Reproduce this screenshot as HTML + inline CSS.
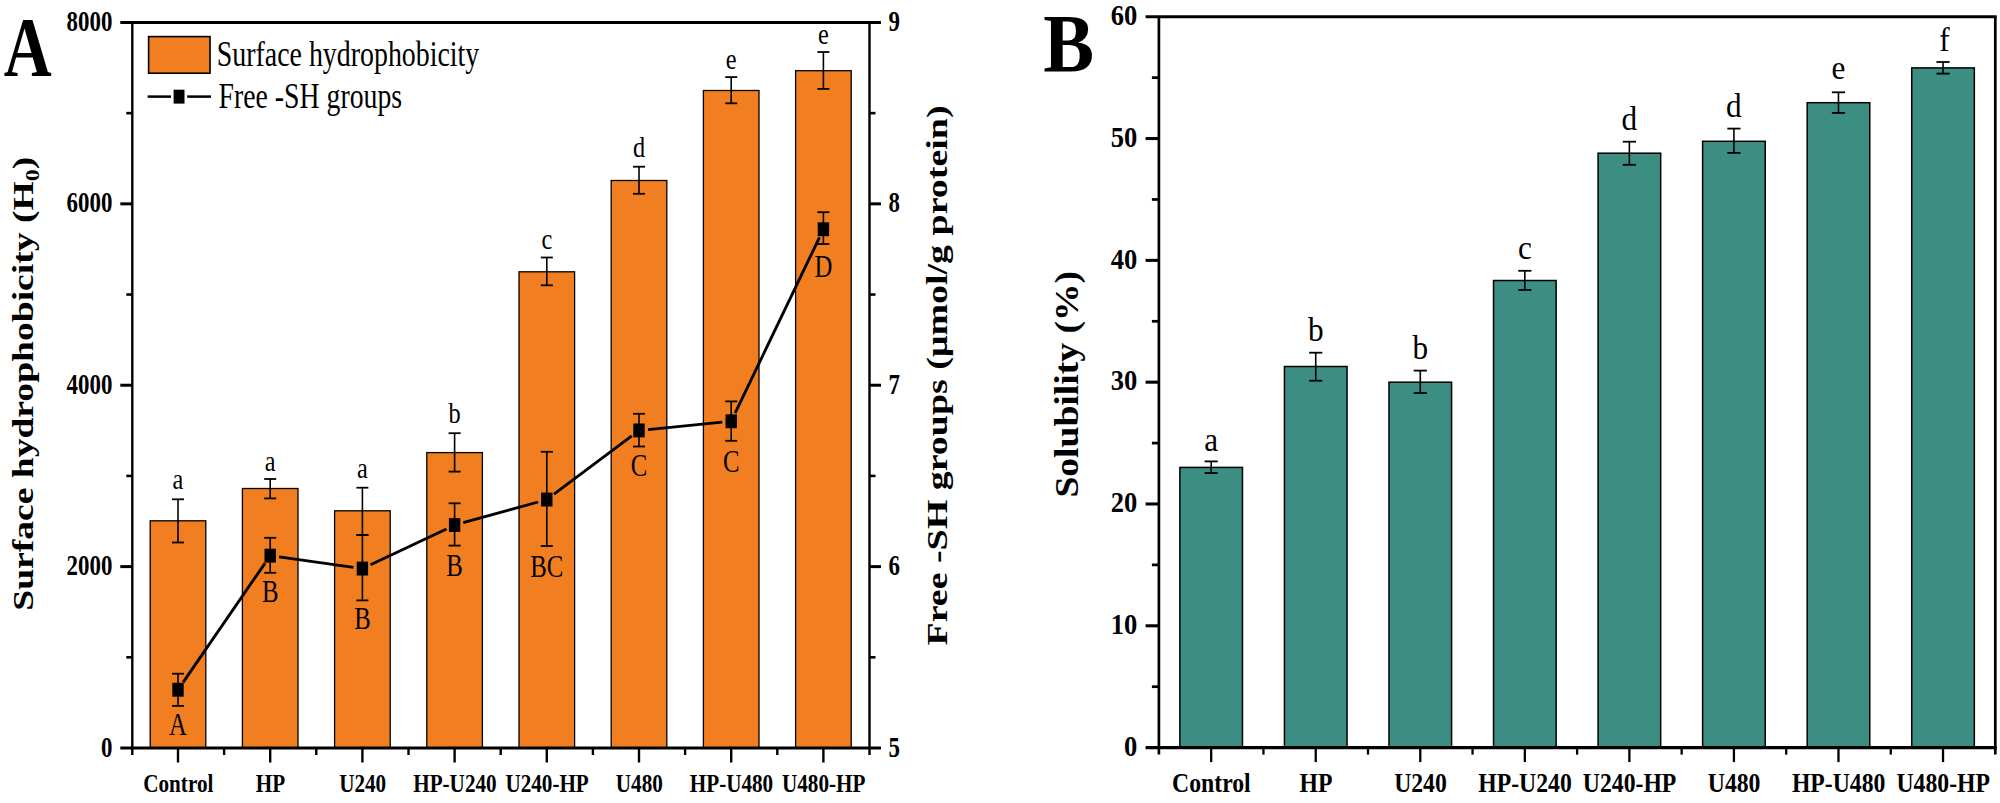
<!DOCTYPE html>
<html lang="en"><head><meta charset="utf-8"><title>Figure</title>
<style>
html,body{margin:0;padding:0;background:#fff;}
body{width:2000px;height:803px;overflow:hidden;}
svg{display:block;}
svg text{font-family:"Liberation Serif",serif;fill:#000;}
</style></head><body>
<svg width="2000" height="803" viewBox="0 0 2000 803">
<rect x="0" y="0" width="2000" height="803" fill="#fff"/>
<rect x="150.20" y="520.80" width="55.60" height="227.20" fill="#F17F21" stroke="#000" stroke-width="1.3"/>
<rect x="242.40" y="488.50" width="55.60" height="259.50" fill="#F17F21" stroke="#000" stroke-width="1.3"/>
<rect x="334.60" y="510.80" width="55.60" height="237.20" fill="#F17F21" stroke="#000" stroke-width="1.3"/>
<rect x="426.80" y="452.60" width="55.60" height="295.40" fill="#F17F21" stroke="#000" stroke-width="1.3"/>
<rect x="519.00" y="271.80" width="55.60" height="476.20" fill="#F17F21" stroke="#000" stroke-width="1.3"/>
<rect x="611.20" y="180.50" width="55.60" height="567.50" fill="#F17F21" stroke="#000" stroke-width="1.3"/>
<rect x="703.40" y="90.50" width="55.60" height="657.50" fill="#F17F21" stroke="#000" stroke-width="1.3"/>
<rect x="795.60" y="70.70" width="55.60" height="677.30" fill="#F17F21" stroke="#000" stroke-width="1.3"/>
<line x1="120.30" y1="22.45" x2="881.00" y2="22.45" stroke="#000" stroke-width="3.0" stroke-linecap="butt"/>
<line x1="120.30" y1="748.00" x2="881.00" y2="748.00" stroke="#000" stroke-width="3.0" stroke-linecap="butt"/>
<line x1="132.30" y1="22.45" x2="132.30" y2="755.00" stroke="#000" stroke-width="2.4" stroke-linecap="butt"/>
<line x1="869.50" y1="22.45" x2="869.50" y2="755.00" stroke="#000" stroke-width="2.4" stroke-linecap="butt"/>
<line x1="126.30" y1="657.31" x2="132.30" y2="657.31" stroke="#000" stroke-width="2.6" stroke-linecap="butt"/>
<line x1="126.30" y1="475.92" x2="132.30" y2="475.92" stroke="#000" stroke-width="2.6" stroke-linecap="butt"/>
<line x1="126.30" y1="294.53" x2="132.30" y2="294.53" stroke="#000" stroke-width="2.6" stroke-linecap="butt"/>
<line x1="126.30" y1="113.14" x2="132.30" y2="113.14" stroke="#000" stroke-width="2.6" stroke-linecap="butt"/>
<line x1="120.30" y1="566.61" x2="132.30" y2="566.61" stroke="#000" stroke-width="3.0" stroke-linecap="butt"/>
<line x1="120.30" y1="385.23" x2="132.30" y2="385.23" stroke="#000" stroke-width="3.0" stroke-linecap="butt"/>
<line x1="120.30" y1="203.84" x2="132.30" y2="203.84" stroke="#000" stroke-width="3.0" stroke-linecap="butt"/>
<line x1="869.50" y1="657.31" x2="875.50" y2="657.31" stroke="#000" stroke-width="2.6" stroke-linecap="butt"/>
<line x1="869.50" y1="566.61" x2="881.00" y2="566.61" stroke="#000" stroke-width="3.0" stroke-linecap="butt"/>
<line x1="869.50" y1="475.92" x2="875.50" y2="475.92" stroke="#000" stroke-width="2.6" stroke-linecap="butt"/>
<line x1="869.50" y1="385.23" x2="881.00" y2="385.23" stroke="#000" stroke-width="3.0" stroke-linecap="butt"/>
<line x1="869.50" y1="294.53" x2="875.50" y2="294.53" stroke="#000" stroke-width="2.6" stroke-linecap="butt"/>
<line x1="869.50" y1="203.84" x2="881.00" y2="203.84" stroke="#000" stroke-width="3.0" stroke-linecap="butt"/>
<line x1="869.50" y1="113.14" x2="875.50" y2="113.14" stroke="#000" stroke-width="2.6" stroke-linecap="butt"/>
<line x1="178.00" y1="748.00" x2="178.00" y2="762.50" stroke="#000" stroke-width="2.4" stroke-linecap="butt"/>
<line x1="270.20" y1="748.00" x2="270.20" y2="762.50" stroke="#000" stroke-width="2.4" stroke-linecap="butt"/>
<line x1="362.40" y1="748.00" x2="362.40" y2="762.50" stroke="#000" stroke-width="2.4" stroke-linecap="butt"/>
<line x1="454.60" y1="748.00" x2="454.60" y2="762.50" stroke="#000" stroke-width="2.4" stroke-linecap="butt"/>
<line x1="546.80" y1="748.00" x2="546.80" y2="762.50" stroke="#000" stroke-width="2.4" stroke-linecap="butt"/>
<line x1="639.00" y1="748.00" x2="639.00" y2="762.50" stroke="#000" stroke-width="2.4" stroke-linecap="butt"/>
<line x1="731.20" y1="748.00" x2="731.20" y2="762.50" stroke="#000" stroke-width="2.4" stroke-linecap="butt"/>
<line x1="823.40" y1="748.00" x2="823.40" y2="762.50" stroke="#000" stroke-width="2.4" stroke-linecap="butt"/>
<line x1="224.10" y1="748.00" x2="224.10" y2="755.00" stroke="#000" stroke-width="2.4" stroke-linecap="butt"/>
<line x1="316.30" y1="748.00" x2="316.30" y2="755.00" stroke="#000" stroke-width="2.4" stroke-linecap="butt"/>
<line x1="408.50" y1="748.00" x2="408.50" y2="755.00" stroke="#000" stroke-width="2.4" stroke-linecap="butt"/>
<line x1="500.70" y1="748.00" x2="500.70" y2="755.00" stroke="#000" stroke-width="2.4" stroke-linecap="butt"/>
<line x1="592.90" y1="748.00" x2="592.90" y2="755.00" stroke="#000" stroke-width="2.4" stroke-linecap="butt"/>
<line x1="685.10" y1="748.00" x2="685.10" y2="755.00" stroke="#000" stroke-width="2.4" stroke-linecap="butt"/>
<line x1="777.30" y1="748.00" x2="777.30" y2="755.00" stroke="#000" stroke-width="2.4" stroke-linecap="butt"/>
<line x1="178.00" y1="499.30" x2="178.00" y2="542.50" stroke="#000" stroke-width="1.6" stroke-linecap="butt"/>
<line x1="172.00" y1="499.30" x2="184.00" y2="499.30" stroke="#000" stroke-width="1.8" stroke-linecap="butt"/>
<line x1="172.00" y1="542.50" x2="184.00" y2="542.50" stroke="#000" stroke-width="1.8" stroke-linecap="butt"/>
<line x1="270.20" y1="479.00" x2="270.20" y2="498.40" stroke="#000" stroke-width="1.6" stroke-linecap="butt"/>
<line x1="264.20" y1="479.00" x2="276.20" y2="479.00" stroke="#000" stroke-width="1.8" stroke-linecap="butt"/>
<line x1="264.20" y1="498.40" x2="276.20" y2="498.40" stroke="#000" stroke-width="1.8" stroke-linecap="butt"/>
<line x1="362.40" y1="487.70" x2="362.40" y2="535.10" stroke="#000" stroke-width="1.6" stroke-linecap="butt"/>
<line x1="356.40" y1="487.70" x2="368.40" y2="487.70" stroke="#000" stroke-width="1.8" stroke-linecap="butt"/>
<line x1="356.40" y1="535.10" x2="368.40" y2="535.10" stroke="#000" stroke-width="1.8" stroke-linecap="butt"/>
<line x1="454.60" y1="433.20" x2="454.60" y2="471.60" stroke="#000" stroke-width="1.6" stroke-linecap="butt"/>
<line x1="448.60" y1="433.20" x2="460.60" y2="433.20" stroke="#000" stroke-width="1.8" stroke-linecap="butt"/>
<line x1="448.60" y1="471.60" x2="460.60" y2="471.60" stroke="#000" stroke-width="1.8" stroke-linecap="butt"/>
<line x1="546.80" y1="257.50" x2="546.80" y2="285.30" stroke="#000" stroke-width="1.6" stroke-linecap="butt"/>
<line x1="540.80" y1="257.50" x2="552.80" y2="257.50" stroke="#000" stroke-width="1.8" stroke-linecap="butt"/>
<line x1="540.80" y1="285.30" x2="552.80" y2="285.30" stroke="#000" stroke-width="1.8" stroke-linecap="butt"/>
<line x1="639.00" y1="166.70" x2="639.00" y2="193.80" stroke="#000" stroke-width="1.6" stroke-linecap="butt"/>
<line x1="633.00" y1="166.70" x2="645.00" y2="166.70" stroke="#000" stroke-width="1.8" stroke-linecap="butt"/>
<line x1="633.00" y1="193.80" x2="645.00" y2="193.80" stroke="#000" stroke-width="1.8" stroke-linecap="butt"/>
<line x1="731.20" y1="77.10" x2="731.20" y2="103.30" stroke="#000" stroke-width="1.6" stroke-linecap="butt"/>
<line x1="725.20" y1="77.10" x2="737.20" y2="77.10" stroke="#000" stroke-width="1.8" stroke-linecap="butt"/>
<line x1="725.20" y1="103.30" x2="737.20" y2="103.30" stroke="#000" stroke-width="1.8" stroke-linecap="butt"/>
<line x1="823.40" y1="52.00" x2="823.40" y2="88.90" stroke="#000" stroke-width="1.6" stroke-linecap="butt"/>
<line x1="817.40" y1="52.00" x2="829.40" y2="52.00" stroke="#000" stroke-width="1.8" stroke-linecap="butt"/>
<line x1="817.40" y1="88.90" x2="829.40" y2="88.90" stroke="#000" stroke-width="1.8" stroke-linecap="butt"/>
<line x1="178.00" y1="673.70" x2="178.00" y2="705.90" stroke="#000" stroke-width="1.6" stroke-linecap="butt"/>
<line x1="172.00" y1="673.70" x2="184.00" y2="673.70" stroke="#000" stroke-width="1.8" stroke-linecap="butt"/>
<line x1="172.00" y1="705.90" x2="184.00" y2="705.90" stroke="#000" stroke-width="1.8" stroke-linecap="butt"/>
<line x1="270.20" y1="537.80" x2="270.20" y2="572.80" stroke="#000" stroke-width="1.6" stroke-linecap="butt"/>
<line x1="264.20" y1="537.80" x2="276.20" y2="537.80" stroke="#000" stroke-width="1.8" stroke-linecap="butt"/>
<line x1="264.20" y1="572.80" x2="276.20" y2="572.80" stroke="#000" stroke-width="1.8" stroke-linecap="butt"/>
<line x1="362.40" y1="535.10" x2="362.40" y2="600.40" stroke="#000" stroke-width="1.6" stroke-linecap="butt"/>
<line x1="356.40" y1="535.10" x2="368.40" y2="535.10" stroke="#000" stroke-width="1.8" stroke-linecap="butt"/>
<line x1="356.40" y1="600.40" x2="368.40" y2="600.40" stroke="#000" stroke-width="1.8" stroke-linecap="butt"/>
<line x1="454.60" y1="503.30" x2="454.60" y2="545.60" stroke="#000" stroke-width="1.6" stroke-linecap="butt"/>
<line x1="448.60" y1="503.30" x2="460.60" y2="503.30" stroke="#000" stroke-width="1.8" stroke-linecap="butt"/>
<line x1="448.60" y1="545.60" x2="460.60" y2="545.60" stroke="#000" stroke-width="1.8" stroke-linecap="butt"/>
<line x1="546.80" y1="451.80" x2="546.80" y2="546.00" stroke="#000" stroke-width="1.6" stroke-linecap="butt"/>
<line x1="540.80" y1="451.80" x2="552.80" y2="451.80" stroke="#000" stroke-width="1.8" stroke-linecap="butt"/>
<line x1="540.80" y1="546.00" x2="552.80" y2="546.00" stroke="#000" stroke-width="1.8" stroke-linecap="butt"/>
<line x1="639.00" y1="413.80" x2="639.00" y2="446.50" stroke="#000" stroke-width="1.6" stroke-linecap="butt"/>
<line x1="633.00" y1="413.80" x2="645.00" y2="413.80" stroke="#000" stroke-width="1.8" stroke-linecap="butt"/>
<line x1="633.00" y1="446.50" x2="645.00" y2="446.50" stroke="#000" stroke-width="1.8" stroke-linecap="butt"/>
<line x1="731.20" y1="401.40" x2="731.20" y2="440.80" stroke="#000" stroke-width="1.6" stroke-linecap="butt"/>
<line x1="725.20" y1="401.40" x2="737.20" y2="401.40" stroke="#000" stroke-width="1.8" stroke-linecap="butt"/>
<line x1="725.20" y1="440.80" x2="737.20" y2="440.80" stroke="#000" stroke-width="1.8" stroke-linecap="butt"/>
<line x1="823.40" y1="212.20" x2="823.40" y2="244.00" stroke="#000" stroke-width="1.6" stroke-linecap="butt"/>
<line x1="817.40" y1="212.20" x2="829.40" y2="212.20" stroke="#000" stroke-width="1.8" stroke-linecap="butt"/>
<line x1="817.40" y1="244.00" x2="829.40" y2="244.00" stroke="#000" stroke-width="1.8" stroke-linecap="butt"/>
<line x1="183.10" y1="682.38" x2="265.10" y2="563.12" stroke="#000" stroke-width="2.85" stroke-linecap="butt"/>
<line x1="279.11" y1="556.95" x2="353.49" y2="567.35" stroke="#000" stroke-width="2.85" stroke-linecap="butt"/>
<line x1="370.54" y1="564.76" x2="446.46" y2="528.94" stroke="#000" stroke-width="2.85" stroke-linecap="butt"/>
<line x1="463.27" y1="522.70" x2="538.13" y2="502.00" stroke="#000" stroke-width="2.85" stroke-linecap="butt"/>
<line x1="554.00" y1="494.20" x2="631.80" y2="435.90" stroke="#000" stroke-width="2.85" stroke-linecap="butt"/>
<line x1="647.96" y1="429.61" x2="722.24" y2="422.19" stroke="#000" stroke-width="2.85" stroke-linecap="butt"/>
<line x1="735.10" y1="413.19" x2="819.50" y2="237.41" stroke="#000" stroke-width="2.85" stroke-linecap="butt"/>
<rect x="172.30" y="682.80" width="11.4" height="13.9" fill="#000"/>
<rect x="264.50" y="548.70" width="11.4" height="13.9" fill="#000"/>
<rect x="356.70" y="561.60" width="11.4" height="13.9" fill="#000"/>
<rect x="448.90" y="518.10" width="11.4" height="13.9" fill="#000"/>
<rect x="541.10" y="492.60" width="11.4" height="13.9" fill="#000"/>
<rect x="633.30" y="423.50" width="11.4" height="13.9" fill="#000"/>
<rect x="725.50" y="414.30" width="11.4" height="13.9" fill="#000"/>
<rect x="817.70" y="222.30" width="11.4" height="13.9" fill="#000"/>
<text transform="translate(178.00,488.50) scale(0.81,1.0)" font-size="30" text-anchor="middle">a</text>
<text transform="translate(270.20,471.20) scale(0.81,1.0)" font-size="30" text-anchor="middle">a</text>
<text transform="translate(362.40,478.10) scale(0.81,1.0)" font-size="30" text-anchor="middle">a</text>
<text transform="translate(454.60,423.30) scale(0.81,1.0)" font-size="30" text-anchor="middle">b</text>
<text transform="translate(546.80,248.90) scale(0.81,1.0)" font-size="30" text-anchor="middle">c</text>
<text transform="translate(639.00,157.20) scale(0.81,1.0)" font-size="30" text-anchor="middle">d</text>
<text transform="translate(731.20,68.90) scale(0.81,1.0)" font-size="30" text-anchor="middle">e</text>
<text transform="translate(823.40,44.20) scale(0.81,1.0)" font-size="30" text-anchor="middle">e</text>
<text transform="translate(178.00,734.60) scale(0.79,1.0)" font-size="31.3" text-anchor="middle">A</text>
<text transform="translate(270.20,602.20) scale(0.79,1.0)" font-size="31.3" text-anchor="middle">B</text>
<text transform="translate(362.40,629.30) scale(0.79,1.0)" font-size="31.3" text-anchor="middle">B</text>
<text transform="translate(454.60,576.00) scale(0.79,1.0)" font-size="31.3" text-anchor="middle">B</text>
<text transform="translate(546.80,576.50) scale(0.79,1.0)" font-size="31.3" text-anchor="middle">BC</text>
<text transform="translate(639.00,476.40) scale(0.79,1.0)" font-size="31.3" text-anchor="middle">C</text>
<text transform="translate(731.20,472.00) scale(0.79,1.0)" font-size="31.3" text-anchor="middle">C</text>
<text transform="translate(823.40,276.70) scale(0.79,1.0)" font-size="31.3" text-anchor="middle">D</text>
<text transform="translate(112.40,756.50) scale(0.782,1)" font-size="29.3" text-anchor="end" font-weight="bold">0</text>
<text transform="translate(112.40,575.11) scale(0.782,1)" font-size="29.3" text-anchor="end" font-weight="bold">2000</text>
<text transform="translate(112.40,393.73) scale(0.782,1)" font-size="29.3" text-anchor="end" font-weight="bold">4000</text>
<text transform="translate(112.40,212.34) scale(0.782,1)" font-size="29.3" text-anchor="end" font-weight="bold">6000</text>
<text transform="translate(112.40,30.95) scale(0.782,1)" font-size="29.3" text-anchor="end" font-weight="bold">8000</text>
<text transform="translate(888.50,756.50) scale(0.782,1)" font-size="29.3" text-anchor="start" font-weight="bold">5</text>
<text transform="translate(888.50,575.11) scale(0.782,1)" font-size="29.3" text-anchor="start" font-weight="bold">6</text>
<text transform="translate(888.50,393.73) scale(0.782,1)" font-size="29.3" text-anchor="start" font-weight="bold">7</text>
<text transform="translate(888.50,212.34) scale(0.782,1)" font-size="29.3" text-anchor="start" font-weight="bold">8</text>
<text transform="translate(888.50,30.95) scale(0.782,1)" font-size="29.3" text-anchor="start" font-weight="bold">9</text>
<text transform="translate(178.30,792.00) scale(0.813,1)" font-size="26" text-anchor="middle" font-weight="bold">Control</text>
<text transform="translate(270.50,792.00) scale(0.813,1)" font-size="26" text-anchor="middle" font-weight="bold">HP</text>
<text transform="translate(362.70,792.00) scale(0.813,1)" font-size="26" text-anchor="middle" font-weight="bold">U240</text>
<text transform="translate(454.90,792.00) scale(0.813,1)" font-size="26" text-anchor="middle" font-weight="bold">HP-U240</text>
<text transform="translate(547.10,792.00) scale(0.813,1)" font-size="26" text-anchor="middle" font-weight="bold">U240-HP</text>
<text transform="translate(639.30,792.00) scale(0.813,1)" font-size="26" text-anchor="middle" font-weight="bold">U480</text>
<text transform="translate(731.50,792.00) scale(0.813,1)" font-size="26" text-anchor="middle" font-weight="bold">HP-U480</text>
<text transform="translate(823.70,792.00) scale(0.813,1)" font-size="26" text-anchor="middle" font-weight="bold">U480-HP</text>
<rect x="148.60" y="36.60" width="61.40" height="36.60" fill="#F17F21" stroke="#000" stroke-width="1.6"/>
<line x1="147.60" y1="96.60" x2="171.00" y2="96.60" stroke="#000" stroke-width="2.5" stroke-linecap="butt"/>
<line x1="187.20" y1="96.60" x2="211.00" y2="96.60" stroke="#000" stroke-width="2.5" stroke-linecap="butt"/>
<rect x="173.6" y="89.7" width="10.9" height="13.9" fill="#000"/>
<text transform="translate(216.80,66.30) scale(0.786,1)" font-size="35.5" text-anchor="start">Surface hydrophobicity</text>
<text transform="translate(218.60,107.50) scale(0.782,1)" font-size="35.5" text-anchor="start">Free -SH groups</text>
<text transform="translate(27.60,76.00) scale(0.79,1)" font-size="84" text-anchor="middle" font-weight="bold">A</text>
<text transform="translate(33.00,383.80) rotate(-90) scale(1,0.8)" font-size="37.6" text-anchor="middle" font-weight="bold">Surface hydrophobicity (H<tspan font-size="24" dy="7">0</tspan><tspan dy="-7">)</tspan></text>
<text transform="translate(946.50,375.50) rotate(-90) scale(1,0.8)" font-size="37.95" text-anchor="middle" font-weight="bold">Free -SH groups (μmol/g protein)</text>
<rect x="1179.88" y="467.40" width="62.60" height="280.20" fill="#3D8E82" stroke="#000" stroke-width="1.5"/>
<rect x="1284.43" y="366.50" width="62.60" height="381.10" fill="#3D8E82" stroke="#000" stroke-width="1.5"/>
<rect x="1388.98" y="382.20" width="62.60" height="365.40" fill="#3D8E82" stroke="#000" stroke-width="1.5"/>
<rect x="1493.53" y="280.50" width="62.60" height="467.10" fill="#3D8E82" stroke="#000" stroke-width="1.5"/>
<rect x="1598.08" y="153.20" width="62.60" height="594.40" fill="#3D8E82" stroke="#000" stroke-width="1.5"/>
<rect x="1702.62" y="141.30" width="62.60" height="606.30" fill="#3D8E82" stroke="#000" stroke-width="1.5"/>
<rect x="1807.17" y="102.70" width="62.60" height="644.90" fill="#3D8E82" stroke="#000" stroke-width="1.5"/>
<rect x="1911.73" y="67.90" width="62.60" height="679.70" fill="#3D8E82" stroke="#000" stroke-width="1.5"/>
<line x1="1145.60" y1="16.75" x2="1996.65" y2="16.75" stroke="#000" stroke-width="3.05" stroke-linecap="butt"/>
<line x1="1145.60" y1="747.60" x2="1996.65" y2="747.60" stroke="#000" stroke-width="3.05" stroke-linecap="butt"/>
<line x1="1158.90" y1="16.75" x2="1158.90" y2="754.60" stroke="#000" stroke-width="2.7" stroke-linecap="butt"/>
<line x1="1995.30" y1="16.75" x2="1995.30" y2="754.60" stroke="#000" stroke-width="2.7" stroke-linecap="butt"/>
<line x1="1151.90" y1="686.70" x2="1158.90" y2="686.70" stroke="#000" stroke-width="2.75" stroke-linecap="butt"/>
<line x1="1145.60" y1="625.79" x2="1158.90" y2="625.79" stroke="#000" stroke-width="3.05" stroke-linecap="butt"/>
<line x1="1151.90" y1="564.89" x2="1158.90" y2="564.89" stroke="#000" stroke-width="2.75" stroke-linecap="butt"/>
<line x1="1145.60" y1="503.98" x2="1158.90" y2="503.98" stroke="#000" stroke-width="3.05" stroke-linecap="butt"/>
<line x1="1151.90" y1="443.08" x2="1158.90" y2="443.08" stroke="#000" stroke-width="2.75" stroke-linecap="butt"/>
<line x1="1145.60" y1="382.18" x2="1158.90" y2="382.18" stroke="#000" stroke-width="3.05" stroke-linecap="butt"/>
<line x1="1151.90" y1="321.27" x2="1158.90" y2="321.27" stroke="#000" stroke-width="2.75" stroke-linecap="butt"/>
<line x1="1145.60" y1="260.37" x2="1158.90" y2="260.37" stroke="#000" stroke-width="3.05" stroke-linecap="butt"/>
<line x1="1151.90" y1="199.46" x2="1158.90" y2="199.46" stroke="#000" stroke-width="2.75" stroke-linecap="butt"/>
<line x1="1145.60" y1="138.56" x2="1158.90" y2="138.56" stroke="#000" stroke-width="3.05" stroke-linecap="butt"/>
<line x1="1151.90" y1="77.65" x2="1158.90" y2="77.65" stroke="#000" stroke-width="2.75" stroke-linecap="butt"/>
<line x1="1211.18" y1="747.60" x2="1211.18" y2="762.10" stroke="#000" stroke-width="2.3000000000000003" stroke-linecap="butt"/>
<line x1="1315.73" y1="747.60" x2="1315.73" y2="762.10" stroke="#000" stroke-width="2.3000000000000003" stroke-linecap="butt"/>
<line x1="1420.28" y1="747.60" x2="1420.28" y2="762.10" stroke="#000" stroke-width="2.3000000000000003" stroke-linecap="butt"/>
<line x1="1524.83" y1="747.60" x2="1524.83" y2="762.10" stroke="#000" stroke-width="2.3000000000000003" stroke-linecap="butt"/>
<line x1="1629.38" y1="747.60" x2="1629.38" y2="762.10" stroke="#000" stroke-width="2.3000000000000003" stroke-linecap="butt"/>
<line x1="1733.92" y1="747.60" x2="1733.92" y2="762.10" stroke="#000" stroke-width="2.3000000000000003" stroke-linecap="butt"/>
<line x1="1838.47" y1="747.60" x2="1838.47" y2="762.10" stroke="#000" stroke-width="2.3000000000000003" stroke-linecap="butt"/>
<line x1="1943.03" y1="747.60" x2="1943.03" y2="762.10" stroke="#000" stroke-width="2.3000000000000003" stroke-linecap="butt"/>
<line x1="1263.45" y1="747.60" x2="1263.45" y2="754.60" stroke="#000" stroke-width="2.3000000000000003" stroke-linecap="butt"/>
<line x1="1368.00" y1="747.60" x2="1368.00" y2="754.60" stroke="#000" stroke-width="2.3000000000000003" stroke-linecap="butt"/>
<line x1="1472.55" y1="747.60" x2="1472.55" y2="754.60" stroke="#000" stroke-width="2.3000000000000003" stroke-linecap="butt"/>
<line x1="1577.10" y1="747.60" x2="1577.10" y2="754.60" stroke="#000" stroke-width="2.3000000000000003" stroke-linecap="butt"/>
<line x1="1681.65" y1="747.60" x2="1681.65" y2="754.60" stroke="#000" stroke-width="2.3000000000000003" stroke-linecap="butt"/>
<line x1="1786.20" y1="747.60" x2="1786.20" y2="754.60" stroke="#000" stroke-width="2.3000000000000003" stroke-linecap="butt"/>
<line x1="1890.75" y1="747.60" x2="1890.75" y2="754.60" stroke="#000" stroke-width="2.3000000000000003" stroke-linecap="butt"/>
<line x1="1211.18" y1="461.40" x2="1211.18" y2="473.00" stroke="#000" stroke-width="1.6" stroke-linecap="butt"/>
<line x1="1204.58" y1="461.40" x2="1217.78" y2="461.40" stroke="#000" stroke-width="1.8" stroke-linecap="butt"/>
<line x1="1204.58" y1="473.00" x2="1217.78" y2="473.00" stroke="#000" stroke-width="1.8" stroke-linecap="butt"/>
<line x1="1315.73" y1="352.70" x2="1315.73" y2="380.70" stroke="#000" stroke-width="1.6" stroke-linecap="butt"/>
<line x1="1309.13" y1="352.70" x2="1322.33" y2="352.70" stroke="#000" stroke-width="1.8" stroke-linecap="butt"/>
<line x1="1309.13" y1="380.70" x2="1322.33" y2="380.70" stroke="#000" stroke-width="1.8" stroke-linecap="butt"/>
<line x1="1420.28" y1="370.60" x2="1420.28" y2="393.00" stroke="#000" stroke-width="1.6" stroke-linecap="butt"/>
<line x1="1413.68" y1="370.60" x2="1426.88" y2="370.60" stroke="#000" stroke-width="1.8" stroke-linecap="butt"/>
<line x1="1413.68" y1="393.00" x2="1426.88" y2="393.00" stroke="#000" stroke-width="1.8" stroke-linecap="butt"/>
<line x1="1524.83" y1="270.80" x2="1524.83" y2="289.90" stroke="#000" stroke-width="1.6" stroke-linecap="butt"/>
<line x1="1518.23" y1="270.80" x2="1531.42" y2="270.80" stroke="#000" stroke-width="1.8" stroke-linecap="butt"/>
<line x1="1518.23" y1="289.90" x2="1531.42" y2="289.90" stroke="#000" stroke-width="1.8" stroke-linecap="butt"/>
<line x1="1629.38" y1="141.70" x2="1629.38" y2="164.80" stroke="#000" stroke-width="1.6" stroke-linecap="butt"/>
<line x1="1622.78" y1="141.70" x2="1635.97" y2="141.70" stroke="#000" stroke-width="1.8" stroke-linecap="butt"/>
<line x1="1622.78" y1="164.80" x2="1635.97" y2="164.80" stroke="#000" stroke-width="1.8" stroke-linecap="butt"/>
<line x1="1733.92" y1="128.60" x2="1733.92" y2="152.90" stroke="#000" stroke-width="1.6" stroke-linecap="butt"/>
<line x1="1727.33" y1="128.60" x2="1740.52" y2="128.60" stroke="#000" stroke-width="1.8" stroke-linecap="butt"/>
<line x1="1727.33" y1="152.90" x2="1740.52" y2="152.90" stroke="#000" stroke-width="1.8" stroke-linecap="butt"/>
<line x1="1838.47" y1="92.30" x2="1838.47" y2="112.90" stroke="#000" stroke-width="1.6" stroke-linecap="butt"/>
<line x1="1831.88" y1="92.30" x2="1845.07" y2="92.30" stroke="#000" stroke-width="1.8" stroke-linecap="butt"/>
<line x1="1831.88" y1="112.90" x2="1845.07" y2="112.90" stroke="#000" stroke-width="1.8" stroke-linecap="butt"/>
<line x1="1943.03" y1="62.00" x2="1943.03" y2="73.60" stroke="#000" stroke-width="1.6" stroke-linecap="butt"/>
<line x1="1936.43" y1="62.00" x2="1949.62" y2="62.00" stroke="#000" stroke-width="1.8" stroke-linecap="butt"/>
<line x1="1936.43" y1="73.60" x2="1949.62" y2="73.60" stroke="#000" stroke-width="1.8" stroke-linecap="butt"/>
<text transform="translate(1211.18,450.60) scale(0.92,1.0)" font-size="34" text-anchor="middle">a</text>
<text transform="translate(1315.73,340.70) scale(0.92,1.0)" font-size="34" text-anchor="middle">b</text>
<text transform="translate(1420.28,358.70) scale(0.92,1.0)" font-size="34" text-anchor="middle">b</text>
<text transform="translate(1524.83,258.50) scale(0.92,1.0)" font-size="34" text-anchor="middle">c</text>
<text transform="translate(1629.38,130.40) scale(0.92,1.0)" font-size="34" text-anchor="middle">d</text>
<text transform="translate(1733.92,116.60) scale(0.92,1.0)" font-size="34" text-anchor="middle">d</text>
<text transform="translate(1838.47,79.20) scale(0.92,1.0)" font-size="34" text-anchor="middle">e</text>
<text transform="translate(1944.53,51.30) scale(0.92,1.0)" font-size="34" text-anchor="middle">f</text>
<text transform="translate(1137.30,755.80) scale(0.9,1)" font-size="29.5" text-anchor="end" font-weight="bold">0</text>
<text transform="translate(1137.30,633.99) scale(0.9,1)" font-size="29.5" text-anchor="end" font-weight="bold">10</text>
<text transform="translate(1137.30,512.18) scale(0.9,1)" font-size="29.5" text-anchor="end" font-weight="bold">20</text>
<text transform="translate(1137.30,390.38) scale(0.9,1)" font-size="29.5" text-anchor="end" font-weight="bold">30</text>
<text transform="translate(1137.30,268.57) scale(0.9,1)" font-size="29.5" text-anchor="end" font-weight="bold">40</text>
<text transform="translate(1137.30,146.76) scale(0.9,1)" font-size="29.5" text-anchor="end" font-weight="bold">50</text>
<text transform="translate(1137.30,24.95) scale(0.9,1)" font-size="29.5" text-anchor="end" font-weight="bold">60</text>
<text transform="translate(1211.38,792.20) scale(0.895,1)" font-size="26.5" text-anchor="middle" font-weight="bold">Control</text>
<text transform="translate(1315.93,792.20) scale(0.895,1)" font-size="26.5" text-anchor="middle" font-weight="bold">HP</text>
<text transform="translate(1420.48,792.20) scale(0.895,1)" font-size="26.5" text-anchor="middle" font-weight="bold">U240</text>
<text transform="translate(1525.03,792.20) scale(0.895,1)" font-size="26.5" text-anchor="middle" font-weight="bold">HP-U240</text>
<text transform="translate(1629.58,792.20) scale(0.895,1)" font-size="26.5" text-anchor="middle" font-weight="bold">U240-HP</text>
<text transform="translate(1734.12,792.20) scale(0.895,1)" font-size="26.5" text-anchor="middle" font-weight="bold">U480</text>
<text transform="translate(1838.67,792.20) scale(0.895,1)" font-size="26.5" text-anchor="middle" font-weight="bold">HP-U480</text>
<text transform="translate(1943.23,792.20) scale(0.895,1)" font-size="26.5" text-anchor="middle" font-weight="bold">U480-HP</text>
<text transform="translate(1068.80,70.80) scale(0.93,1)" font-size="82" text-anchor="middle" font-weight="bold">B</text>
<text transform="translate(1078.20,384.30) rotate(-90) scale(1,0.92)" font-size="37.6" text-anchor="middle" font-weight="bold">Solubility (%)</text>
</svg>
</body></html>
